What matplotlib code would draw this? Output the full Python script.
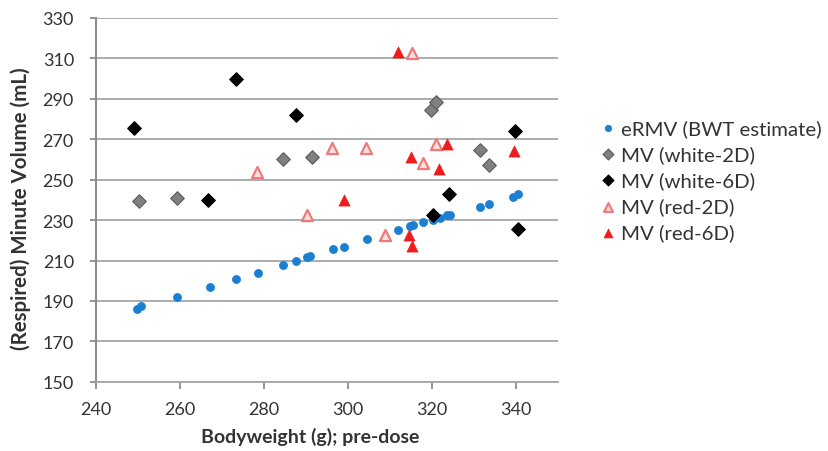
import matplotlib.pyplot as plt

plt.rcParams['font.family'] = ['Lato', 'DejaVu Sans']

# ── data ────────────────────────────────────────
ermv_x = [249.7, 250.6, 259.2, 267.0, 273.3, 278.5, 284.4, 287.6, 290.3, 291.0,
          296.5, 299.1, 304.6, 312.0, 314.8, 315.4, 317.9, 320.3, 321.9, 323.5,
          324.3, 331.4, 333.6, 339.4, 340.5]
ermv_y = [186.1, 187.3, 192.2, 196.7, 200.8, 203.8, 207.9, 210.0, 212.0, 212.2,
          215.8, 216.7, 220.8, 224.9, 227.1, 227.4, 229.0, 229.9, 231.2, 232.3,
          232.7, 236.5, 237.8, 241.4, 242.7]

white2d_x = [250.3, 259.2, 284.4, 291.4, 319.7, 320.9, 331.4, 333.6]
white2d_y = [239.3, 240.9, 260.4, 261.2, 284.3, 288.4, 264.5, 257.4]

white6d_x = [249.0, 266.7, 273.3, 287.6, 320.3, 324.0, 339.8, 340.5]
white6d_y = [275.7, 240.1, 300.0, 282.2, 232.7, 243.1, 274.1, 225.4]

red2d_x = [278.2, 290.3, 296.3, 304.3, 308.8, 315.2, 317.8, 320.9]
red2d_y = [254.0, 232.7, 265.8, 265.8, 222.8, 312.9, 258.4, 267.5]

red6d_x = [299.1, 312.0, 314.6, 315.2, 314.9, 321.7, 323.5, 339.5]
red6d_y = [240.2, 313.2, 222.4, 217.1, 261.4, 255.4, 267.8, 264.0]

x_ticks = [240, 260, 280, 300, 320, 340]
y_ticks = [150, 170, 190, 210, 230, 250, 270, 290, 310, 330]

# ── plot ─────────────────────────────────────────
fig = plt.figure(figsize=(8.29, 4.52), dpi=100)
ax = fig.add_axes([0.116, 0.153, 0.557, 0.805])

ax.set_axisbelow(True)
ax.grid(axis='y', color='#a6a6a6', linewidth=1.3)

ax.scatter(ermv_x, ermv_y, s=34, marker='o', color='#1a7fd0',
           edgecolors='#1a7fd0', linewidths=0.5, label='eRMV (BWT estimate)', zorder=3)
ax.scatter(white2d_x, white2d_y, s=48, marker='D', color='#808080',
           edgecolors='#5a5a5a', linewidths=0.8, label='MV (white-2D)', zorder=3)
ax.scatter(white6d_x, white6d_y, s=48, marker='D', color='#000000',
           edgecolors='#000000', linewidths=0.8, label='MV (white-6D)', zorder=3)
ax.scatter(red2d_x, red2d_y, s=64, marker='^', color='#fbe0e0',
           edgecolors='#ee7b7b', linewidths=1.6, label='MV (red-2D)', zorder=3)
ax.scatter(red6d_x, red6d_y, s=64, marker='^', color='#ee1c1c',
           edgecolors='#ee1c1c', linewidths=0.5, label='MV (red-6D)', zorder=3)

ax.set_xlim(240, 350)
ax.set_ylim(150, 330)
ax.set_xticks(x_ticks)
ax.set_yticks(y_ticks)

for side in ['top', 'right']:
    ax.spines[side].set_visible(False)
ax.spines['left'].set_color('#8c8c8c')
ax.spines['left'].set_linewidth(1.5)
ax.spines['bottom'].set_color('#a6a6a6')
ax.spines['bottom'].set_linewidth(1.3)

ax.tick_params(axis='y', length=4, width=1.3, color='#8c8c8c', pad=12,
               labelsize=13, labelcolor='#333333')
ax.tick_params(axis='x', length=5, width=1.3, color='#8c8c8c', pad=9,
               labelsize=13, labelcolor='#333333')

ax.set_xlabel('Bodyweight (g); pre-dose', fontsize=14, fontweight='bold',
              color='#333333')
ax.set_ylabel('(Respired) Minute Volume (mL)', fontsize=14.8, fontweight='bold',
              color='#333333')
ax.xaxis.set_label_coords(0.463, -0.125)
ax.yaxis.set_label_coords(-0.141, 0.478)

fig.legend(loc='upper left', bbox_to_anchor=(0.722, 0.735), frameon=False,
           fontsize=14.7, handletextpad=0.15, labelspacing=0.4, borderaxespad=0,
           borderpad=0, handlelength=0.95, markerscale=0.8, labelcolor='#333333')

plt.savefig('out.png', dpi=100)
